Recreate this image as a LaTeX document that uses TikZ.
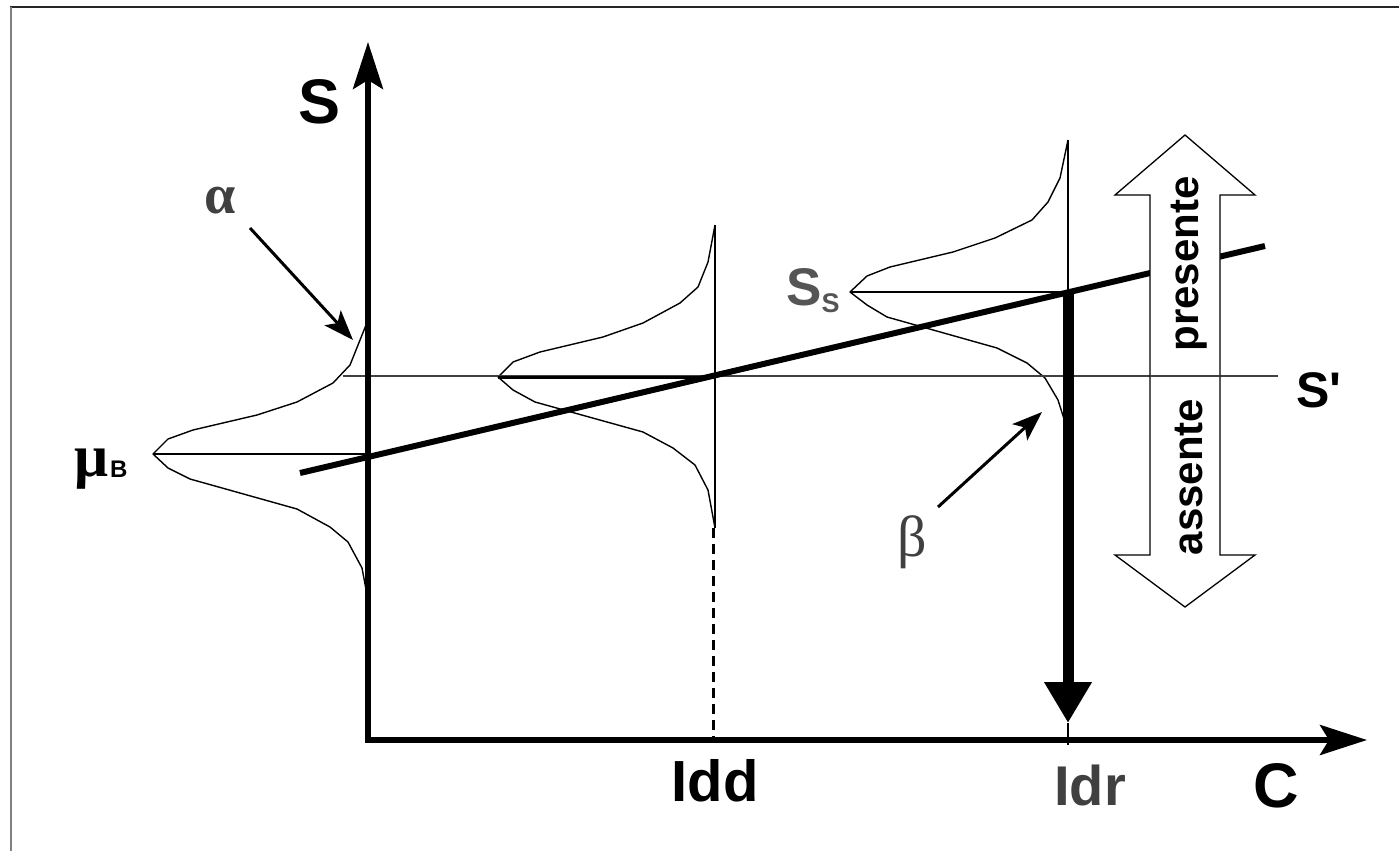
\documentclass[tikz,border=0pt]{standalone}
\usepackage{fontspec}
\setmainfont{Liberation Sans}
\newfontfamily\grk{Liberation Serif}
\usetikzlibrary{arrows.meta}
\definecolor{dgray}{HTML}{404040}
\definecolor{mgray}{HTML}{555555}
\tikzset{
  curve/.style={line width=1.4pt, black, line join=round},
  axis/.style={line width=5.5pt, -{Stealth[length=47pt,width=30pt,inset=9pt]}},
  pointer/.style={line width=3pt, -{Stealth[length=30pt,width=22pt,inset=7pt]}},
  lbl/.style={font=\bfseries\fontsize{#1}{#1}\selectfont, inner sep=0pt},
}
\begin{document}
\begin{tikzpicture}[x=1pt,y=-1pt]
\useasboundingbox (0,0) rectangle (1399,851);
% frame
\draw[line width=2pt, color=black!85] (10,7) -- (1399,7);
\draw[line width=2.5pt, color=black!50] (11,7) -- (11,851);

% key coordinates
\coordinate (O) at (368,740);
\coordinate (Ytop) at (368,42);
\coordinate (Xend) at (1367,740);
\coordinate (B1) at (368,454);
\coordinate (P1) at (153,454);
\coordinate (B2) at (715,377);
\coordinate (P2) at (498,377);
\coordinate (B2bot) at (715,528);
\coordinate (B2top) at (715,225);
\coordinate (X2) at (713,740);
\coordinate (B3) at (1068,292);
\coordinate (P3) at (850,292);
\coordinate (B3top) at (1068,140);
\coordinate (B3tip) at (1068,723);
\coordinate (X3) at (1068,745);
\coordinate (Cal1) at (300,473);
\coordinate (Cal2) at (1265,246);
\coordinate (Sp1) at (343,376);
\coordinate (Sp2) at (1278,376);

% curve 1
\begin{scope}[shift={(368,454)}]
\draw[curve] (0,-134) -- (-8,-114) -- (-18,-89) -- (-35,-71) -- (-71,-52) -- (-111,-39) -- (-175,-24) -- (-200,-15) -- (-215,0) -- (-200,14) -- (-178,25) -- (-71,55) -- (-38,73) -- (-20,88) -- (-6,114) -- (0,146);
\end{scope}
% curve 2
\begin{scope}[shift={(715,377)}]
\draw[curve] (0,-152) -- (-7,-115) -- (-17,-90) -- (-35,-74) -- (-72,-54) -- (-112,-40) -- (-175,-25) -- (-202,-15) -- (-217,0) -- (-202,13) -- (-180,25) -- (-72,55) -- (-42,71) -- (-20,88) -- (-7,113) -- (0,151);
\end{scope}
% curve 3
\begin{scope}[shift={(1068,292)}]
\draw[curve] (0,-152) -- (-8,-114) -- (-20,-90) -- (-36,-72) -- (-73,-54) -- (-115,-40) -- (-178,-25) -- (-201,-16) -- (-218,0) -- (-201,13) -- (-181,25) -- (-71,56) -- (-41,71) -- (-23,86) -- (-10,108) -- (-3,130) -- (0,151);
\end{scope}

\draw[curve] (B2top) -- (B2bot);
\draw[curve] (B3top) -- (B3);
\draw[line width=3pt, dash pattern=on 10pt off 6pt] ([xshift=-2pt]B2bot) -- (X2);

% S' line (under)
\draw[line width=2.5pt, color=dgray] (Sp1) -- (Sp2);

% peak lines
\draw[line width=2.2pt] (P1) -- (B1);
\draw[line width=3pt] (P2) -- (B2);
\draw[line width=2.5pt] (P3) -- (B3);

% calibration line
\draw[line width=6pt] (Cal1) -- (Cal2);

% axes
\draw[axis] (O) -- (Ytop);
\draw[axis] ([xshift=-2.75pt]O) -- (Xend);

% thick arrow
\draw[line width=11pt, -{Triangle[length=41pt,width=45pt]}] (B3) -- (B3tip);
\draw[line width=2.5pt] (B3tip) -- (X3);

% double arrow
\draw[line width=1.3pt, fill=white, line join=miter]
  (1185,135) -- (1255,195) -- (1220,195) -- (1220,555) -- (1255,555) -- (1185,607)
  -- (1115,555) -- (1150,555) -- (1150,195) -- (1115,195) -- cycle;
\draw[line width=2.5pt, color=dgray] (1150,376) -- (1220,376);
\node[lbl=42, rotate=90] (pres) at (1189,264) {presente};
\node[lbl=42, rotate=90] (ass) at (1189,477) {assente};

% pointers
\coordinate (a1) at (250,228);
\coordinate (a2) at (353,340);
\draw[pointer] (a1) -- (a2);
\coordinate (b1) at (938,507);
\coordinate (b2) at (1042,412);
\draw[pointer] (b1) -- (b2);

% labels
\node[lbl=63] (Slab) at (320,102) {S};
\node[lbl=63] (Clab) at (1276,786) {C};
\node[lbl=58] (Idd) at (715,781) {Idd};
\node[lbl=56, text=dgray] (Idr) at (1090,785) {Idr};
\node[lbl=50] (Sprime) at (1319,390) {S\textquotesingle};
\node[lbl=53, text=mgray, anchor=base west] (Ss) at (786,305) {S\raisebox{-7pt}{\fontsize{27}{27}\selectfont S}};
\node[font=\grk\bfseries\fontsize{60}{60}\selectfont, inner sep=0pt, anchor=base] (mu) at (92,476) {μ};
\node[lbl=24, anchor=base west] (Blab) at (110,477) {B};
\node[font=\grk\bfseries\fontsize{56}{56}\selectfont, text=dgray, inner sep=0pt] (alpha) at (220,201) {α};
\node[font=\grk\fontsize{58}{58}\selectfont, text=dgray, inner sep=0pt] (beta) at (912,542) {β};
\end{tikzpicture}
\end{document}
